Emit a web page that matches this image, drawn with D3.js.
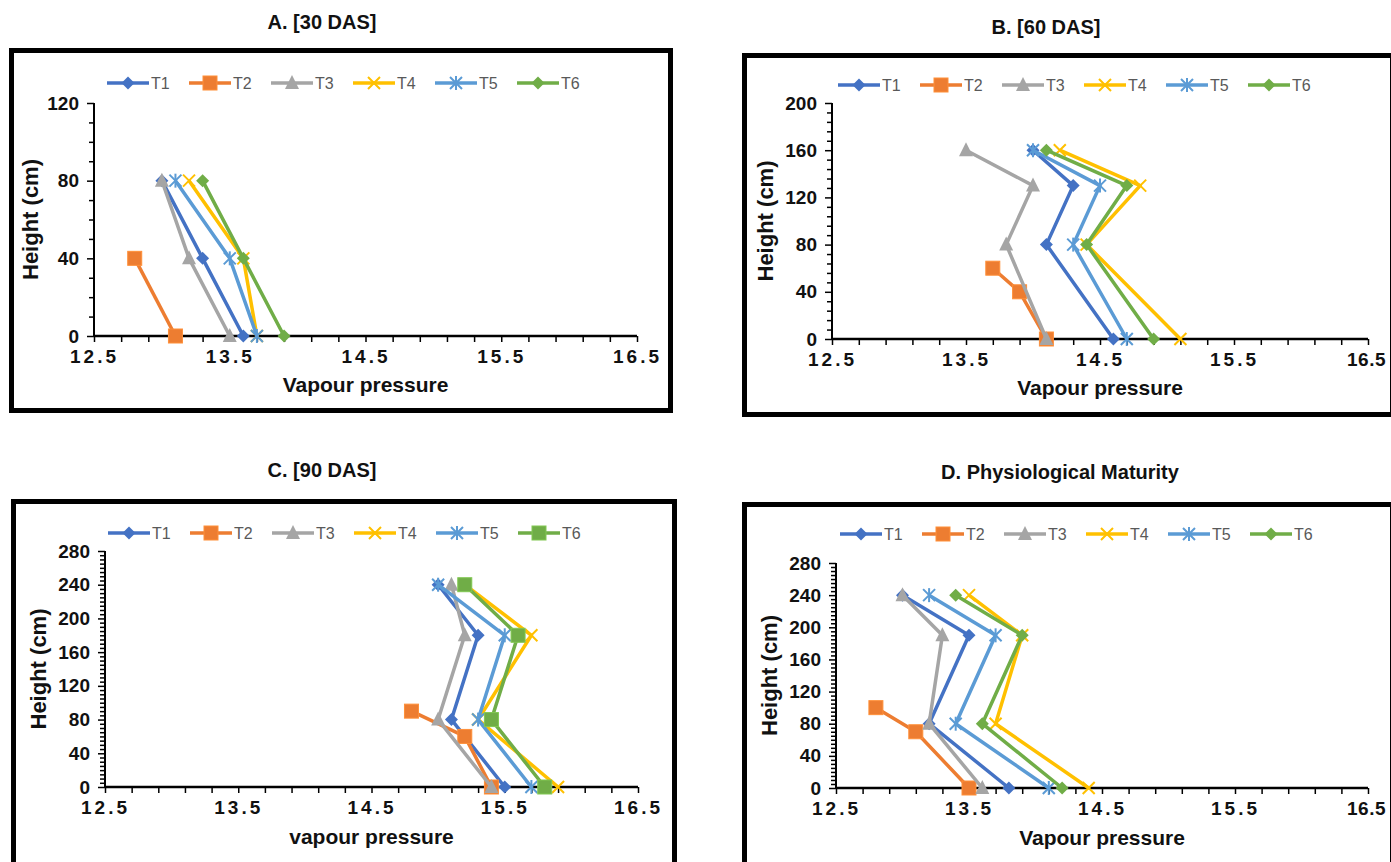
<!DOCTYPE html>
<html>
<head>
<meta charset="utf-8">
<script src="https://cdn.jsdelivr.net/npm/d3@7"></script>
<style>
  html, body { margin: 0; padding: 0; background: #fff; }
  svg { display: block; font-family: "Liberation Sans", Arial, sans-serif; }
</style>
</head>
<body>
<svg id="chart" width="1391" height="862"></svg>
<script>
// ---------------- DATA ----------------
const categories = ["T1", "T2", "T3", "T4", "T5", "T6"];
const xTickLabels = [12.5, 13.5, 14.5, 15.5, 16.5];

const panelTitles = ["A. [30 DAS]", "B. [60 DAS]", "C. [90 DAS]", "D. Physiological Maturity"];
const xTitles = ["Vapour pressure", "Vapour pressure", "vapour pressure", "Vapour pressure"];
const yTitle = "Height (cm)";
const yMaxes = [120, 200, 280, 280];

// Panel A [30 DAS]
const heightsA = [[80, 40, 0], [40, 0], [80, 40, 0], [80, 40, 0], [80, 40, 0], [80, 40, 0]];
const vapourA = [[13.0, 13.3, 13.6], [12.8, 13.1], [13.0, 13.2, 13.5], [13.2, 13.6, 13.7], [13.1, 13.5, 13.7], [13.3, 13.6, 13.9]];

// Panel B [60 DAS]
const heightsB = [[160, 130, 80, 0], [60, 40, 0], [160, 130, 80, 0], [160, 130, 80, 0], [160, 130, 80, 0], [160, 130, 80, 0]];
const vapourB = [[14.0, 14.3, 14.1, 14.6], [13.7, 13.9, 14.1], [13.5, 14.0, 13.8, 14.1], [14.2, 14.8, 14.4, 15.1], [14.0, 14.5, 14.3, 14.7], [14.1, 14.7, 14.4, 14.9]];

// Panel C [90 DAS]
const heightsC = [[240, 180, 80, 0], [90, 60, 0], [240, 180, 80, 0], [240, 180, 80, 0], [240, 180, 80, 0], [240, 180, 80, 0]];
const vapourC = [[15.0, 15.3, 15.1, 15.5], [14.8, 15.2, 15.4], [15.1, 15.2, 15.0, 15.4], [15.2, 15.7, 15.3, 15.9], [15.0, 15.5, 15.3, 15.7], [15.2, 15.6, 15.4, 15.8]];

// Panel D Physiological Maturity
const heightsD = [[240, 190, 80, 0], [100, 70, 0], [240, 190, 80, 0], [240, 190, 80, 0], [240, 190, 80, 0], [240, 190, 80, 0]];
const vapourD = [[13.0, 13.5, 13.2, 13.8], [12.8, 13.1, 13.5], [13.0, 13.3, 13.2, 13.6], [13.5, 13.9, 13.7, 14.4], [13.2, 13.7, 13.4, 14.1], [13.4, 13.9, 13.6, 14.2]];

// ---------------- STYLE / LAYOUT ----------------
const colors = ["#4472C4", "#ED7D31", "#A5A5A5", "#FFC000", "#5B9BD5", "#70AD47"];
const shapesABD = ["diamond", "square", "triangle", "x", "star", "diamond"];
const shapesC = ["diamond", "square", "triangle", "x", "star", "square"];

const panels = [
  { title: panelTitles[0], titleX: 322, titleY: 22, frame: [11.5, 50.5, 659, 360],
    x0: 94, x1: 637, y0: 336, y1: 103, yMax: yMaxes[0], minor: 10,
    legendX: 107, legendY: 83, yTitleX: 30, xTitleY: 385, xTitle: xTitles[0],
    heights: heightsA, values: vapourA, shapes: shapesABD },
  { title: panelTitles[1], titleX: 1046, titleY: 27, frame: [744.5, 55.5, 648, 359],
    x0: 832, x1: 1368, y0: 339, y1: 103, yMax: yMaxes[1], minor: 8,
    legendX: 838, legendY: 85, yTitleX: 765, xTitleY: 388, xTitle: xTitles[1],
    heights: heightsB, values: vapourB, shapes: shapesABD },
  { title: panelTitles[2], titleX: 322, titleY: 470, frame: [13.5, 501.5, 661, 372],
    x0: 105, x1: 638, y0: 787, y1: 551, yMax: yMaxes[2], minor: 5,
    legendX: 108, legendY: 533, yTitleX: 38, xTitleY: 837, xTitle: xTitles[2],
    heights: heightsC, values: vapourC, shapes: shapesC },
  { title: panelTitles[3], titleX: 1060, titleY: 472, frame: [744.5, 504.5, 648, 372],
    x0: 836, x1: 1368, y0: 788, y1: 563, yMax: yMaxes[3], minor: 5,
    legendX: 840, legendY: 534, yTitleX: 769, xTitleY: 838, xTitle: xTitles[3],
    heights: heightsD, values: vapourD, shapes: shapesABD }
];

const svg = d3.select("#chart");
svg.append("rect").attr("width", 1391).attr("height", 862).attr("fill", "#fff");

function drawMarker(g, shape, x, y, color) {
  if (shape === "diamond") {
    const s = 6.5;
    g.append("path").attr("d", `M${x},${y - s}L${x + s},${y}L${x},${y + s}L${x - s},${y}Z`).attr("fill", color);
  } else if (shape === "square") {
    const s = 14;
    g.append("rect").attr("x", x - s / 2).attr("y", y - s / 2).attr("width", s).attr("height", s)
      .attr("fill", color).attr("stroke", d3.color(color).brighter(0.4)).attr("stroke-width", 1);
  } else if (shape === "triangle") {
    const s = 7;
    g.append("path").attr("d", `M${x},${y - s - 1}L${x + s},${y + s - 1}L${x - s},${y + s - 1}Z`).attr("fill", color);
  } else if (shape === "x" || shape === "star") {
    const s = 6;
    g.append("path").attr("d", `M${x - s},${y - s}L${x + s},${y + s}M${x - s},${y + s}L${x + s},${y - s}`)
      .attr("stroke", color).attr("stroke-width", 2).attr("fill", "none");
    if (shape === "star") {
      g.append("path").attr("d", `M${x},${y - s - 1}L${x},${y + s + 1}`)
        .attr("stroke", color).attr("stroke-width", 2);
    }
  }
}

panels.forEach(p => {
  const g = svg.append("g");

  // frame
  g.append("rect").attr("x", p.frame[0]).attr("y", p.frame[1]).attr("width", p.frame[2]).attr("height", p.frame[3])
    .attr("fill", "none").attr("stroke", "#000").attr("stroke-width", 5);

  // title
  svg.append("text").attr("x", p.titleX).attr("y", p.titleY).attr("dy", "0.35em")
    .attr("text-anchor", "middle").attr("font-size", 20).attr("font-weight", "bold").attr("fill", "#111")
    .text(p.title);

  const x = d3.scaleLinear().domain([xTickLabels[0], xTickLabels[xTickLabels.length - 1]]).range([p.x0, p.x1]);
  const y = d3.scaleLinear().domain([0, p.yMax]).range([p.y0, p.y1]);

  // x axis
  const xTickVals = d3.range(0, 21).map(i => +(12.5 + i * 0.2).toFixed(1));
  const xAxis = d3.axisBottom(x).tickValues(xTickVals).tickSize(6).tickPadding(8)
    .tickFormat(d => xTickLabels.some(v => Math.abs(v - d) < 1e-6) ? d3.format(".1f")(d) : "");
  const xa = g.append("g").attr("transform", `translate(0,${p.y0})`).call(xAxis);
  xa.select(".domain").attr("stroke", "#000").attr("stroke-width", 2.5).attr("d", `M${p.x0},0H${p.x1}`);
  xa.selectAll(".tick line").attr("stroke", "#000").attr("stroke-width", 1.5);
  xa.selectAll(".tick text").attr("font-size", 19).attr("font-weight", "bold").attr("fill", "#111")
    .attr("letter-spacing", d => (p.x1 > 1300 && d > 16) ? "0.5px" : "3px")
    .attr("dx", d => (p.x1 > 1300 && d > 16) ? -2 : 0)
    .attr("font-family", "'Liberation Sans', Arial, sans-serif");

  // y axis
  const yTickVals = d3.range(0, p.yMax + 0.001, p.minor);
  const yAxis = d3.axisLeft(y).tickValues(yTickVals).tickSize(5).tickPadding(10)
    .tickFormat(d => d % 40 === 0 ? d : "");
  const ya = g.append("g").attr("transform", `translate(${p.x0},0)`).call(yAxis);
  ya.select(".domain").attr("stroke", "#000").attr("stroke-width", 2).attr("d", `M0,${p.y0}V${p.y1}`);
  ya.selectAll(".tick line").attr("stroke", "#000").attr("stroke-width", 1.5)
    .attr("x2", d => d % 40 === 0 ? -7 : -5);
  ya.selectAll(".tick text").attr("font-size", 19).attr("font-weight", "bold").attr("fill", "#111")
    .attr("font-family", "'Liberation Sans', Arial, sans-serif");

  // axis titles
  g.append("text").attr("transform", `translate(${p.yTitleX},${(p.y0 + p.y1) / 2}) rotate(-90)`)
    .attr("dy", "0.35em").attr("text-anchor", "middle").attr("font-size", 22).attr("font-weight", "bold")
    .attr("fill", "#111").text(yTitle);
  g.append("text").attr("x", (p.x0 + p.x1) / 2).attr("y", p.xTitleY).attr("dy", "0.35em")
    .attr("text-anchor", "middle").attr("font-size", 21).attr("font-weight", "bold").attr("fill", "#111")
    .text(p.xTitle);

  // series
  const line = d3.line().x(d => x(d[0])).y(d => y(d[1]));
  categories.forEach((c, i) => {
    const pts = p.values[i].map((v, j) => [v, p.heights[i][j]]);
    g.append("path").datum(pts).attr("d", line).attr("fill", "none")
      .attr("stroke", colors[i]).attr("stroke-width", 3.5).attr("stroke-linejoin", "round");
    pts.forEach(pt => drawMarker(g, p.shapes[i], x(pt[0]), y(pt[1]), colors[i]));
  });

  // legend
  categories.forEach((c, i) => {
    const sx = p.legendX + i * 82;
    g.append("line").attr("x1", sx).attr("x2", sx + 42).attr("y1", p.legendY).attr("y2", p.legendY)
      .attr("stroke", colors[i]).attr("stroke-width", 3.5);
    drawMarker(g, p.shapes[i], sx + 21, p.legendY, colors[i]);
    g.append("text").attr("x", sx + 44).attr("y", p.legendY).attr("dy", "0.36em")
      .attr("font-size", 16).attr("fill", "#595959").text(c);
  });
});
</script>
</body>
</html>
